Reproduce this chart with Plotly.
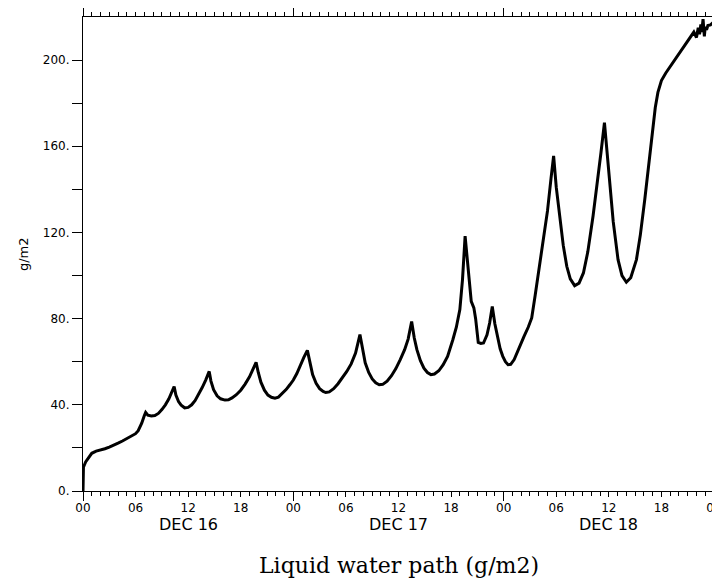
import plotly.graph_objects as go

# Hours since DEC 16 00Z
hours = [
    0.0, 0.05, 0.3, 0.7, 1.0, 1.5, 2.0, 2.5, 3.0, 3.5, 4.0, 4.5, 5.0, 5.5, 6.0, 6.3, 6.7, 7.0, 7.15, 7.4,
    7.8, 8.2, 8.6, 9.0, 9.4, 9.8, 10.1, 10.4, 10.6, 10.9, 11.2, 11.6, 12.0, 12.4, 12.8, 13.2, 13.6, 14.0, 14.4, 14.6,
    14.9, 15.3, 15.7, 16.2, 16.6, 17.0, 17.5, 18.0, 18.5, 19.0, 19.4, 19.75, 20.0, 20.3, 20.7, 21.1, 21.5, 21.9, 22.3, 22.7,
    23.2, 23.6, 24.0, 24.4, 24.8, 25.2, 25.6, 25.9, 26.2, 26.6, 27.0, 27.4, 27.7, 28.1, 28.6, 29.1, 29.6, 30.1, 30.6, 31.1,
    31.6, 31.9, 32.2, 32.6, 33.0, 33.4, 33.8, 34.2, 34.7, 35.2, 35.7, 36.2, 36.7, 37.1, 37.5, 37.8, 38.1, 38.5, 38.9, 39.3,
    39.7, 40.1, 40.6, 41.1, 41.6, 42.2, 42.6, 43.0, 43.3, 43.6, 43.8, 44.0, 44.3, 44.6, 44.8, 45.1, 45.4, 45.7, 46.1, 46.4,
    46.7, 47.0, 47.3, 47.6, 47.9, 48.2, 48.5, 48.8, 49.2, 49.8, 50.3, 50.8, 51.2, 51.6, 52.0, 52.5, 53.0, 53.4, 53.7, 54.0,
    54.4, 54.8, 55.2, 55.6, 56.1, 56.6, 57.1, 57.6, 58.2, 58.7, 59.1, 59.5, 59.8, 60.1, 60.5, 61.05, 61.5, 62.0, 62.5, 63.15,
    63.6, 64.1, 64.6, 65.0, 65.3, 65.6, 66.0, 66.5, 67.0, 67.5, 68.0, 68.5, 69.0, 69.4, 69.7, 70.0, 70.2, 70.35, 70.5, 70.6,
    70.75, 70.9, 71.0, 71.15, 71.3, 71.6, 71.9, 72.0,
]
lwp = [
    0.0, 11.0, 13.5, 16.0, 17.5, 18.5, 19.0, 19.6, 20.4, 21.2, 22.2, 23.2, 24.4, 25.8, 26.6, 28.0, 31.5, 35.0, 36.5, 35.2,
    34.8, 35.0, 36.0, 37.8, 40.0, 42.8, 45.5, 48.5, 44.5, 41.5, 39.8, 38.6, 38.8, 40.0, 42.0, 44.8, 48.0, 51.5, 55.5, 51.0,
    47.0, 44.2, 42.8, 42.2, 42.3, 43.2, 44.7, 46.8, 49.6, 53.0, 56.5, 59.7, 55.0, 50.5, 46.8, 44.5, 43.5, 43.1, 43.6, 45.0,
    47.2, 49.3, 51.5, 54.5, 58.5, 62.0, 65.3, 59.0, 54.0, 50.0, 47.5, 46.2, 45.7, 46.0, 47.5, 49.8, 52.5, 55.5, 59.0, 64.0,
    72.6, 65.0, 59.5, 55.0, 52.0, 50.2, 49.3, 49.5, 51.0, 53.5, 56.8, 61.0, 65.6, 70.5, 78.7, 71.0, 65.6, 60.5, 57.0, 55.0,
    54.0, 54.3, 55.8, 58.6, 62.5, 70.2, 76.0, 84.2, 98.0, 118.3, 110.0, 101.0, 88.0, 85.0, 80.0, 69.0, 68.5, 68.7, 72.5, 78.0,
    85.7, 77.5, 71.0, 66.0, 62.5, 60.0, 58.6, 58.8, 61.0, 67.1, 71.5, 76.0, 80.3, 91.0, 101.5, 115.2, 130.0, 145.0, 155.5, 141.0,
    126.0, 114.0, 104.3, 98.5, 95.3, 96.5, 101.2, 111.0, 127.6, 143.0, 157.0, 171.0, 156.0, 143.1, 125.0, 107.4, 100.0, 96.9, 99.0, 107.4,
    119.0, 135.3, 153.0, 169.4, 178.0, 185.0, 190.5, 194.0, 197.0, 199.8, 202.5, 206.0, 209.0, 211.5, 213.0, 210.5, 215.0, 212.0, 216.5, 213.0,
    219.0, 211.0, 215.5, 214.0, 216.0, 216.3, 217.5, 217.8,
]

hour_ticks = list(range(0, 73, 6))
hour_labels = ["00", "06", "12", "18"] * 3 + ["00"]
day_ticks = [0, 24, 48, 72]
day_centers = [12, 36, 60]
day_labels = ["DEC 16", "DEC 17", "DEC 18"]
y_ticks = list(range(0, 201, 20))
y_labels = ["0.", "", "40.", "", "80.", "", "120.", "", "160.", "", "200."]
title_text = "Liquid water path (g/m2)"
y_title = "g/m2"

X_RANGE = [0, 72]
Y_RANGE = [0, 220]

fig = go.Figure()
fig.add_trace(go.Scatter(x=hours, y=lwp, mode="lines",
                         line=dict(color="black", width=3),
                         showlegend=False, hoverinfo="skip"))
# invisible traces to activate the mirrored / extra axes
fig.add_trace(go.Scatter(x=hours, y=lwp, xaxis="x2", yaxis="y2", mode="lines",
                         line=dict(color="rgba(0,0,0,0)", width=0),
                         showlegend=False, hoverinfo="skip"))
fig.add_trace(go.Scatter(x=hours, y=lwp, xaxis="x3", yaxis="y", mode="lines",
                         line=dict(color="rgba(0,0,0,0)", width=0),
                         showlegend=False, hoverinfo="skip"))

tickfont = dict(family="DejaVu Sans", size=12, color="black")

# the page body adds an 8px margin, so the figure is 8px smaller than the window
fig.update_layout(
    width=712, height=572,
    margin=dict(l=75, r=6, t=9, b=89, autoexpand=False),
    paper_bgcolor="white", plot_bgcolor="white",
    showlegend=False,
    xaxis=dict(range=X_RANGE, tickmode="array", tickvals=hour_ticks, ticktext=hour_labels,
               ticks="outside", ticklen=5, tickwidth=1, tickcolor="black",
               showline=True, linecolor="black", linewidth=1.2, automargin=False,
               ticklabeloverflow="allow",
               showgrid=False, zeroline=False, tickfont=tickfont,
               minor=dict(tickmode="linear", tick0=0, dtick=1, ticks="outside",
                          ticklen=4, tickwidth=1, tickcolor="black", showgrid=False)),
    xaxis2=dict(range=X_RANGE, overlaying="x", side="top", anchor="y",
                tickmode="array", tickvals=day_ticks, ticks="outside", ticklen=10,
                tickwidth=1, tickcolor="black", showticklabels=False, automargin=False,
                showline=True, linecolor="black", linewidth=1.2,
                showgrid=False, zeroline=False,
                minor=dict(tickmode="linear", tick0=0, dtick=1, ticks="outside",
                           ticklen=4, tickwidth=1, tickcolor="black", showgrid=False)),
    xaxis3=dict(range=X_RANGE, overlaying="x", side="bottom", anchor="y",
                tickmode="array", tickvals=day_ticks, ticks="outside", ticklen=9,
                tickwidth=1, tickcolor="black", showticklabels=False, automargin=False,
                showline=False, showgrid=False, zeroline=False),
    yaxis=dict(range=Y_RANGE, tickmode="array", tickvals=y_ticks, ticktext=y_labels,
               ticks="outside", ticklen=10, tickwidth=1, tickcolor="black",
               showline=True, linecolor="black", linewidth=1.2, automargin=False,
               ticklabeloverflow="allow",
               showgrid=False, zeroline=False, tickfont=tickfont),
    yaxis2=dict(range=Y_RANGE, overlaying="y", side="right", anchor="x",
                tickmode="array", tickvals=y_ticks, ticks="outside", ticklen=6,
                tickwidth=1, tickcolor="black", showticklabels=False, automargin=False,
                showline=True, linecolor="black", linewidth=1.2,
                showgrid=False, zeroline=False),
)

for xc, lab in zip(day_centers, day_labels):
    fig.add_annotation(x=xc, xref="x", y=-0.07, yref="paper", text=lab,
                       showarrow=False, xanchor="center", yanchor="middle",
                       font=dict(family="DejaVu Sans", size=16, color="black"))

fig.add_annotation(x=0.5, xref="paper", y=-0.158, yref="paper", text=title_text,
                   showarrow=False, xanchor="center", yanchor="middle",
                   font=dict(family="DejaVu Serif", size=22, color="black"))

fig.add_annotation(x=-0.095, xref="paper", y=0.5, yref="paper", text=y_title,
                   textangle=-90, showarrow=False, xanchor="center", yanchor="middle",
                   font=dict(family="DejaVu Sans", size=13, color="black"))

fig.write_html("out.html")
